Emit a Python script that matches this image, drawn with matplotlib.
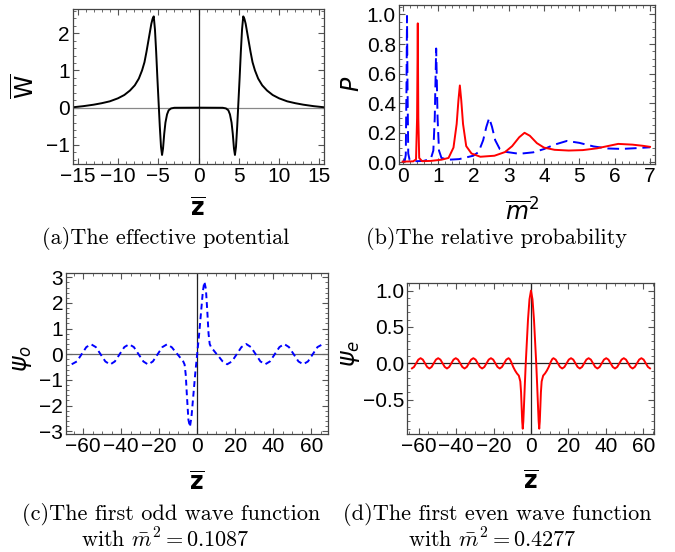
import matplotlib
matplotlib.use('Agg')
import matplotlib.pyplot as plt
from matplotlib.ticker import MultipleLocator, FuncFormatter

plt.rcParams['font.family'] = ['Liberation Sans', 'DejaVu Sans']

# (a) effective potential W(z)
z_a = [-15.6, -14.3, -13.0, -12.0, -11.0, -10.0, -9.2, -8.5, -7.9, -7.4, -7.0,
       -6.7, -6.45, -6.25, -6.05, -5.85, -5.7, -5.55,
       -5.4, -5.25, -5.1, -4.95, -4.8, -4.65, -4.52, -4.4, -4.25, -4.1, -3.9,
       -3.7, -3.4, -3.0, 0.0,
       3.0, 3.4, 3.7, 3.9, 4.1, 4.25, 4.4, 4.52, 4.65, 4.8, 4.95, 5.1, 5.25,
       5.4, 5.55, 5.7, 5.85, 6.05, 6.25, 6.45, 6.7, 7.0, 7.4, 7.9, 8.5, 9.2,
       10.0, 11.0, 12.0, 13.0, 14.3, 15.6]
w_a = [0.01, 0.04, 0.08, 0.12, 0.17, 0.25, 0.34, 0.46, 0.6, 0.78, 1.0,
       1.22, 1.5, 1.75, 2.0, 2.25, 2.38, 2.45,
       2.1, 1.5, 0.8, 0.15, -0.5, -1.05, -1.27, -1.1, -0.7, -0.4, -0.18,
       -0.07, -0.02, -0.003, 0.0,
       -0.003, -0.02, -0.07, -0.18, -0.4, -0.7, -1.1, -1.27, -1.05, -0.5, 0.15,
       0.8, 1.5, 2.1, 2.45, 2.38, 2.25, 2.0, 1.75, 1.5, 1.22, 1.0, 0.78, 0.6,
       0.46, 0.34, 0.25, 0.17, 0.12, 0.08, 0.04, 0.01]

# (b) relative probability, odd (blue dashed) and even (red solid)
m2_odd = [0.0, 0.06, 0.09, 0.11, 0.125, 0.14, 0.16, 0.2, 0.4, 0.6, 0.8, 0.87,
          0.91, 0.95, 0.99, 1.03, 1.1, 1.3, 1.6, 2.0, 2.15, 2.28, 2.37, 2.45,
          2.53, 2.62, 2.75, 2.95, 3.3, 3.7, 4.0, 4.3, 4.65, 5.0, 5.4, 5.8,
          6.2, 6.6, 7.0]
p_odd = [0.005, 0.01, 0.05, 0.5, 0.99, 0.5, 0.06, 0.015, 0.008, 0.01, 0.025,
         0.08, 0.3, 0.77, 0.3, 0.08, 0.03, 0.018, 0.022, 0.045, 0.07, 0.15,
         0.24, 0.30, 0.24, 0.15, 0.09, 0.07, 0.058, 0.068, 0.09, 0.12, 0.145,
         0.132, 0.108, 0.094, 0.091, 0.096, 0.102]
m2_even = [0.0, 0.3, 0.38, 0.41, 0.43, 0.445, 0.47, 0.55, 0.8, 1.1, 1.3,
           1.44, 1.53, 1.58, 1.62, 1.66, 1.71, 1.8, 1.95, 2.2, 2.6, 2.9, 3.1,
           3.3, 3.45, 3.6, 3.8, 4.0, 4.3, 4.7, 5.1, 5.5, 5.8, 6.1, 6.5, 6.8,
           7.0]
p_even = [0.005, 0.007, 0.02, 0.3, 0.94, 0.3, 0.03, 0.008, 0.01, 0.018, 0.03,
          0.1, 0.26, 0.42, 0.52, 0.42, 0.26, 0.11, 0.06, 0.038, 0.045, 0.07,
          0.11, 0.17, 0.20, 0.18, 0.13, 0.1, 0.085, 0.08, 0.083, 0.095, 0.11,
          0.125, 0.12, 0.112, 0.105]

# (c) first odd wave function, m^2 = 0.1087
z_c = [-66.0, -63.3, -60.8, -58.3, -55.8, -53.3, -50.8, -48.3, -45.8, -43.3,
       -40.8, -38.3, -35.8, -33.3, -30.8, -28.3, -25.8, -23.3, -20.8, -18.3,
       -15.8, -13.3, -11.5, -10.0, -8.5, -7.5, -6.6, -6.0, -5.4, -4.6, -3.8,
       -3.0, -2.0, -1.0, 0.0, 1.0, 2.0, 3.0, 3.8, 4.6, 5.4, 6.0, 6.6, 7.5,
       8.5, 10.0, 11.5, 13.3, 15.8, 18.3, 20.8, 23.3, 25.8, 28.3, 30.8, 33.3,
       35.8, 38.3, 40.8, 43.3, 45.8, 48.3, 50.8, 53.3, 55.8, 58.3, 60.8, 63.3,
       66.0]
psi_c = [-0.39, -0.28, 0.0, 0.28, 0.39, 0.28, 0.0, -0.28, -0.40, -0.28,
         0.0, 0.28, 0.39, 0.28, 0.0, -0.28, -0.40, -0.28, 0.0, 0.28,
         0.39, 0.27, 0.1, -0.03, -0.17, -0.25, -0.4, -0.8, -1.6, -2.55, -2.83,
         -2.45, -1.6, -0.75, 0.0, 0.75, 1.6, 2.45, 2.83, 2.55, 1.6, 0.8, 0.4,
         0.25, 0.17, 0.03, -0.1, -0.27, -0.39, -0.28, 0.0, 0.28, 0.40, 0.28,
         0.0, -0.28, -0.39, -0.28, 0.0, 0.28, 0.40, 0.28, 0.0, -0.28, -0.39,
         -0.28, 0.0, 0.28, 0.39]

# (d) first even wave function, m^2 = 0.4277
z_d = [-63.6, -62.5, -61.35, -60.2, -59.0, -57.8, -56.65, -55.5, -54.3, -53.1,
       -51.95, -50.8, -49.6, -48.4, -47.25, -46.1, -44.9, -43.7, -42.55, -41.4,
       -40.2, -39.0, -37.85, -36.7, -35.5, -34.3, -33.15, -32.0, -30.8, -29.6,
       -28.45, -27.3, -26.1, -24.9, -23.75, -22.6, -21.4, -20.2, -19.05, -17.9,
       -16.7, -15.5, -14.35, -13.2, -12.0, -11.3, -10.6, -9.5, -8.5, -7.5,
       -6.5, -5.7, -5.3, -5.0, -4.7, -4.4, -4.1, -3.8, -3.3, -2.8, -2.3, -1.6,
       -0.8, 0.0, 0.8, 1.6, 2.3, 2.8, 3.3, 3.8, 4.1, 4.4, 4.7, 5.0, 5.3, 5.7,
       6.5, 7.5, 8.5, 9.5, 10.6, 11.3, 12.0, 13.2, 14.35, 15.5, 16.7, 17.9,
       19.05, 20.2, 21.4, 22.6, 23.75, 24.9, 26.1, 27.3, 28.45, 29.6, 30.8,
       32.0, 33.15, 34.3, 35.5, 36.7, 37.85, 39.0, 40.2, 41.4, 42.55, 43.7,
       44.9, 46.1, 47.25, 48.4, 49.6, 50.8, 51.95, 53.1, 54.3, 55.5, 56.65,
       57.8, 59.0, 60.2, 61.35, 62.5, 63.6]
psi_d = [-0.07, -0.05, 0.0, 0.05, 0.07, 0.05, 0.0, -0.05, -0.072, -0.05,
         0.0, 0.05, 0.07, 0.05, 0.0, -0.05, -0.072, -0.05, 0.0, 0.05,
         0.07, 0.05, 0.0, -0.05, -0.072, -0.05, 0.0, 0.05, 0.07, 0.05,
         0.0, -0.05, -0.072, -0.05, 0.0, 0.05, 0.07, 0.05, 0.0, -0.05,
         -0.072, -0.05, 0.0, 0.05, 0.07, 0.055, 0.02, -0.05, -0.1, -0.14,
         -0.17, -0.25, -0.4, -0.6, -0.8, -0.9, -0.8, -0.62, -0.3, 0.0, 0.25,
         0.6, 0.88, 1.0, 0.88, 0.6, 0.25, 0.0, -0.3, -0.62, -0.8, -0.9, -0.8,
         -0.6, -0.4, -0.25, -0.17, -0.14, -0.1, -0.05, 0.02, 0.055, 0.07, 0.05,
         0.0, -0.05, -0.072, -0.05, 0.0, 0.05, 0.07, 0.05, 0.0, -0.05, -0.072,
         -0.05, 0.0, 0.05, 0.07, 0.05, 0.0, -0.05, -0.072, -0.05, 0.0, 0.05,
         0.07, 0.05, 0.0, -0.05, -0.072, -0.05, 0.0, 0.05, 0.07, 0.05, 0.0,
         -0.05, -0.072, -0.05, 0.0, 0.05, 0.07, 0.05, 0.0, -0.05, -0.07]

W, H = 675, 552


def box(x0, y0, x1, y1):
    """Pixel box (top-left origin) to figure fraction rect."""
    return [x0 / W, 1 - y1 / H, (x1 - x0) / W, (y1 - y0) / H]


def put(fig, x, y, s, **kw):
    fig.text(x / W, 1 - y / H, s, ha='center', va='center', **kw)


def style_axes(ax, xmaj, xmin, ymaj, ymin, yfmt=None):
    ax.xaxis.set_major_locator(MultipleLocator(xmaj))
    ax.xaxis.set_minor_locator(MultipleLocator(xmin))
    ax.yaxis.set_major_locator(MultipleLocator(ymaj))
    ax.yaxis.set_minor_locator(MultipleLocator(ymin))
    if yfmt:
        ax.yaxis.set_major_formatter(
            FuncFormatter(lambda v, p: (yfmt % v).replace('-', '\u2212')))
    ax.tick_params(which='both', direction='in', top=True, right=True,
                   color='#555555', labelsize=15, pad=2)
    ax.tick_params(which='major', length=4, width=0.8)
    ax.tick_params(which='minor', length=2, width=0.6)
    for sp in ax.spines.values():
        sp.set_color('#444444')
        sp.set_linewidth(0.9)


fig = plt.figure(figsize=(6.75, 5.52), dpi=100)

# (a)
ax1 = fig.add_axes(box(72.7, 9.3, 324.3, 164.3))
ax1.axhline(0, color='#888888', lw=0.9)
ax1.axvline(0, color='#222222', lw=0.9)
ax1.plot(z_a, w_a, color='black', lw=1.4)
ax1.set_xlim(-15.6, 15.6)
ax1.set_ylim(-1.52, 2.64)
style_axes(ax1, 5, 1, 1, 0.2)

# (b)
ax2 = fig.add_axes(box(398.7, 5, 655.3, 164.3))
ax2.plot(m2_odd, p_odd, color='blue', lw=1.4, dashes=(6, 3))
ax2.plot(m2_even, p_even, color='red', lw=1.4)
ax2.set_xlim(-0.11, 7.15)
ax2.set_ylim(-0.013, 1.064)
style_axes(ax2, 1, 0.2, 0.2, 0.05, yfmt='%.1f')

# (c)
ax3 = fig.add_axes(box(66, 272.7, 328.3, 434.3))
ax3.axhline(0, color='#666666', lw=0.9)
ax3.axvline(0, color='#222222', lw=0.9)
ax3.plot(z_c, psi_c, color='blue', lw=1.4, dashes=(3, 2))
ax3.set_xlim(-69, 69)
ax3.set_ylim(-3.12, 3.18)
style_axes(ax3, 20, 5, 1, 0.2)

# (d)
ax4 = fig.add_axes(box(407.3, 283.3, 654.3, 434.3))
ax4.axhline(0, color='#222222', lw=0.9)
ax4.axvline(0, color='#222222', lw=0.9)
ax4.plot(z_d, psi_d, color='red', lw=1.4)
ax4.set_xlim(-66.1, 65.9)
ax4.set_ylim(-0.977, 1.10)
style_axes(ax4, 20, 5, 0.5, 0.1, yfmt='%.1f')

# axis labels
lab = dict(math_fontfamily='dejavusans', size=17)
put(fig, 26, 86, r'$\overline{\mathsf{W}}$', rotation=90, **lab)
put(fig, 198, 210, r'$\overline{\mathbf{z}}$', **lab)
put(fig, 353, 84, r'$P$', rotation=90, **lab)
put(fig, 522, 212, r'$\overline{m}^2$', **lab)
put(fig, 23, 359, r'$\psi_o$', rotation=90, **lab)
put(fig, 197, 484, r'$\overline{\mathbf{z}}$', **lab)
put(fig, 350, 353, r'$\psi_e$', rotation=90, **lab)
put(fig, 531, 483, r'$\overline{\mathbf{z}}$', **lab)

# captions
cap = dict(family='cmr10', math_fontfamily='cm', size=16)
put(fig, 166, 238, '(a)The effective potential', **cap)
put(fig, 496, 238, '(b)The relative probability', **cap)
put(fig, 171, 515, '(c)The first odd wave function', **cap)
put(fig, 165, 539, r'with $\bar{m}^2 = 0.1087$', **cap)
put(fig, 497, 515, '(d)The first even wave function', **cap)
put(fig, 492, 539, r'with $\bar{m}^2 = 0.4277$', **cap)

fig.savefig('out.png', dpi=100)
